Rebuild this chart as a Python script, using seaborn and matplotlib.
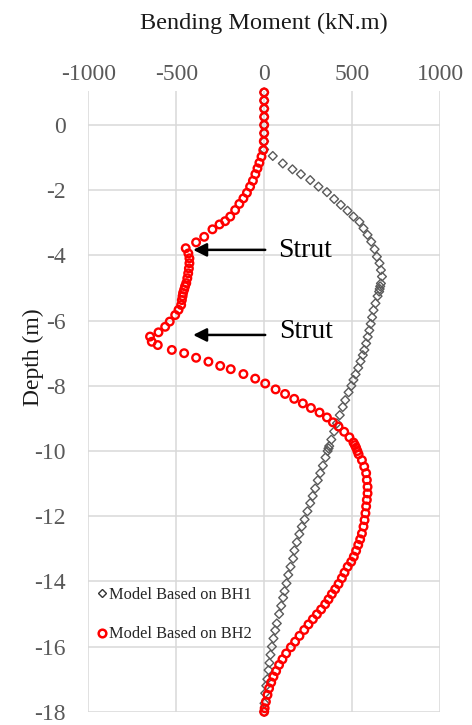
import matplotlib
matplotlib.use("Agg")
import matplotlib.pyplot as plt
import seaborn as sns
import pandas as pd
from matplotlib.lines import Line2D

# ---- data ----
bh1_depth = [1.0, 0.75, 0.5, 0.25, 0.0, -0.25, -0.5, -0.75, -0.95, -1.18, -1.36, -1.51, -1.69,
             -1.89, -2.06, -2.27, -2.45, -2.63, -2.81, -2.97, -3.17, -3.37, -3.58, -3.81, -4.04,
             -4.24, -4.45, -4.65, -4.86, -4.95, -5.03, -5.11, -5.25, -5.47, -5.68, -5.9, -6.1,
             -6.3, -6.5, -6.7, -6.9, -7.06, -7.25, -7.45, -7.65, -7.82, -8.0, -8.2, -8.44, -8.65,
             -8.9, -9.15, -9.4, -9.65, -9.85, -9.92, -10.0, -10.2, -10.45, -10.68, -10.9, -11.15,
             -11.38, -11.6, -11.85, -12.1, -12.32, -12.55, -12.8, -13.05, -13.3, -13.55, -13.8,
             -14.06, -14.3, -14.5, -14.75, -15.0, -15.29, -15.5, -15.75, -16.0, -16.25, -16.5,
             -16.72, -17.0, -17.2, -17.43, -17.74, -18.0]
bh1_moment = [0, 0, 0, 0, 0, 0, 0, 0, 49, 106, 161, 209, 262,
              309, 357, 398, 436, 474, 508, 542, 565, 588, 609, 628, 641,
              656, 664, 670, 664, 660, 657, 654, 645, 633, 622, 614, 606,
              598, 589, 580, 570, 561, 548, 535, 520, 508, 496, 480, 461, 447,
              430, 414, 398, 382, 370, 366, 361, 349, 334, 319, 305, 290,
              276, 262, 246, 230, 214, 200, 186, 172, 165, 150, 137,
              127, 116, 108, 97, 85, 72, 63, 53, 44, 36, 30,
              25, 18, 12, 6, 2, 0]

bh2_depth = [1.0, 0.75, 0.5, 0.25, 0.0, -0.25, -0.5, -0.77, -0.97, -1.16, -1.33, -1.51, -1.71,
             -1.89, -2.08, -2.25, -2.42, -2.61, -2.81, -2.95, -3.05, -3.2, -3.43, -3.6, -3.78,
             -3.94, -4.09, -4.24, -4.4, -4.55, -4.7, -4.85, -4.95, -5.05, -5.15, -5.25, -5.37,
             -5.52, -5.67, -5.83, -6.03, -6.19, -6.36, -6.49, -6.65, -6.75, -6.9, -7.0, -7.14,
             -7.26, -7.39, -7.49, -7.64, -7.78, -7.93, -8.11, -8.25, -8.4, -8.54, -8.68, -8.82,
             -8.97, -9.12, -9.25, -9.41, -9.58, -9.74, -9.82, -9.9, -10.0, -10.1, -10.28, -10.48,
             -10.68, -10.89, -11.1, -11.3, -11.5, -11.7, -11.91, -12.12, -12.32, -12.53, -12.71,
             -12.88, -13.06, -13.24, -13.4, -13.55, -13.73, -13.9, -14.08, -14.24, -14.39, -14.55,
             -14.7, -14.86, -15.01, -15.16, -15.32, -15.49, -15.67, -15.85, -16.02, -16.21, -16.39,
             -16.56, -16.75, -16.92, -17.1, -17.28, -17.48, -17.69, -17.89, -18.0]
bh2_moment = [0, 0, 0, 0, 0, 0, -2, -5, -15, -27, -38, -50, -64,
              -80, -98, -118, -141, -165, -193, -222, -254, -294, -341, -387, -446,
              -431, -425, -425, -428, -432, -437, -443, -450, -455, -461, -464, -468,
              -472, -487, -506, -537, -563, -601, -649, -639, -605, -525, -455, -387,
              -317, -250, -190, -118, -51, 6, 65, 119, 171, 220, 266, 315,
              357, 391, 423, 455, 485, 508, 516, 523, 530, 537, 556, 569,
              580, 584, 588, 588, 584, 580, 576, 571, 565, 556, 546,
              535, 523, 510, 495, 475, 457, 442, 423, 404, 385, 366,
              347, 324, 300, 277, 252, 228, 201, 176, 152, 125, 104,
              85, 68, 53, 40, 28, 19, 10, 3, 0]

x_ticks = [-1000, -500, 0, 500, 1000]
y_ticks = [0, -2, -4, -6, -8, -10, -12, -14, -16, -18]
labels = ["Model Based on BH1", "Model Based on BH2"]
strut_depths = [-3.83, -6.44]
strut_text = "Strut"

df1 = pd.DataFrame({"moment": bh1_moment, "depth": bh1_depth})
df2 = pd.DataFrame({"moment": bh2_moment, "depth": bh2_depth})

sns.set_style("white")
plt.rcParams["font.family"] = ["Liberation Serif", "DejaVu Serif"]
plt.rcParams["axes.unicode_minus"] = False

fig = plt.figure(figsize=(4.72, 7.25), dpi=100)
ax = fig.add_axes([0.1871, 0.0182, 0.7451, 0.8566])

grid_c = "#D9D9D9"
for v in x_ticks:
    ax.axvline(v, color=grid_c, lw=1.1, zorder=0)
for v in y_ticks:
    ax.axhline(v, color=grid_c, lw=1.1, zorder=0)

sns.scatterplot(data=df1, x="moment", y="depth", marker="D", s=20,
                facecolors="none", edgecolor="#5a5a5a", linewidth=1.0,
                ax=ax, zorder=3, clip_on=False)
sns.scatterplot(data=df2, x="moment", y="depth", marker="o", s=30,
                facecolors="none", edgecolor="#FF0000", linewidth=1.7,
                ax=ax, zorder=4, clip_on=False)

ax.set_xlim(-1000, 1000)
ax.set_ylim(-18, 1.05)
ax.set_xticks(x_ticks)
ax.set_yticks(y_ticks)
ax.xaxis.tick_top()
ax.xaxis.set_label_position("top")
ax.tick_params(axis="both", length=0, labelsize=17, labelcolor="#595959")
ax.tick_params(axis="x", pad=4.5)
ax.tick_params(axis="y", pad=16)
ax.set_xlabel("Bending Moment (kN.m)", fontsize=17.5, color="#1a1a1a", labelpad=25)
ax.set_ylabel("Depth (m)", fontsize=17, color="#1a1a1a")
ax.yaxis.set_label_coords(-0.125, 0.571)
for s in ax.spines.values():
    s.set_visible(False)

# strut arrows
for d in strut_depths:
    ax.annotate("", xy=(-404, d), xytext=(6, d),
                arrowprops=dict(arrowstyle="-|>,head_length=0.8,head_width=0.4",
                                color="black", lw=1.8, shrinkA=0, shrinkB=0),
                annotation_clip=False, zorder=5)
ax.text(80, -3.85, strut_text, fontsize=20, va="center", ha="left", color="black")
ax.text(85, -6.33, strut_text, fontsize=20, va="center", ha="left", color="black")

handles = [
    Line2D([], [], linestyle="none", marker="D", markersize=4, markerfacecolor="none",
           markeredgecolor="#333333", markeredgewidth=1.0),
    Line2D([], [], linestyle="none", marker="o", markersize=5.5, markerfacecolor="none",
           markeredgecolor="#FF0000", markeredgewidth=1.8),
]
leg = ax.legend(handles, labels, loc="upper left", bbox_to_anchor=(0.005, 0.212),
                frameon=False, fontsize=11.8, handlelength=0.6, handletextpad=0.15,
                labelspacing=1.45, borderaxespad=0)

fig.savefig("out.png", dpi=100)
